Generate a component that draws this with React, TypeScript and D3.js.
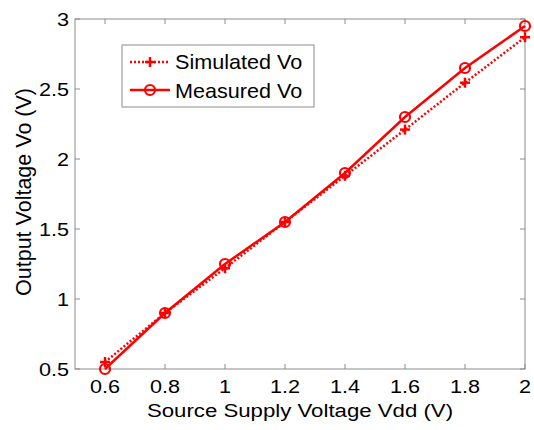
import React from "react";
import * as d3 from "d3";

// Supply voltage sweep and output voltages
const vdd = [0.6, 0.8, 1.0, 1.2, 1.4, 1.6, 1.8, 2.0];
const simulatedVo = [0.55, 0.9, 1.22, 1.55, 1.88, 2.21, 2.545, 2.87];
const measuredVo = [0.5, 0.9, 1.25, 1.55, 1.9, 2.3, 2.65, 2.95];
const xTicks = [0.6, 0.8, 1.0, 1.2, 1.4, 1.6, 1.8, 2.0];
const yTicks = [0.5, 1, 1.5, 2, 2.5, 3];
const seriesNames = ["Simulated Vo", "Measured Vo"];

const W = 534;
const H = 430;
const plot = { left: 75, right: 525, top: 19, bottom: 369 };
const RED = "#ff0000";
const AXIS = "#8c8c8c";
const FONT = "Liberation Sans, Arial, sans-serif";
const FS = 18.5;
const SX = 1.17; // horizontal widening of the label glyphs

// Text drawn with slightly widened glyphs
function WideText(props: {
  x: number;
  y: number;
  anchor?: "start" | "middle" | "end";
  size?: number;
  sx?: number;
  children: React.ReactNode;
}) {
  const { x, y, anchor = "start", size = FS, sx = SX, children } = props;
  return (
    <text
      transform={`translate(${x},${y}) scale(${sx},1)`}
      fontSize={size}
      textAnchor={anchor}
      fill="#000"
    >
      {children}
    </text>
  );
}

export default function App() {
  const x = d3.scaleLinear().domain([0.5, 2]).range([plot.left, plot.right]);
  const y = d3.scaleLinear().domain([0.5, 3]).range([plot.bottom, plot.top]);
  const line = d3
    .line<[number, number]>()
    .x((d) => x(d[0]))
    .y((d) => y(d[1]));
  const simPts = vdd.map((v, i) => [v, simulatedVo[i]] as [number, number]);
  const measPts = vdd.map((v, i) => [v, measuredVo[i]] as [number, number]);
  const tickLen = 5;
  const fmt = d3.format("~g");

  const cross = (cx: number, cy: number, k: string) => (
    <g key={k} stroke={RED} strokeWidth={2.5}>
      <line x1={cx - 5} x2={cx + 5} y1={cy} y2={cy} />
      <line x1={cx} x2={cx} y1={cy - 5} y2={cy + 5} />
    </g>
  );
  const circ = (cx: number, cy: number, k: string) => (
    <circle key={k} cx={cx} cy={cy} r={5} fill="none" stroke={RED} strokeWidth={2.2} />
  );

  const legend = { x: 122, y: 45, w: 192, h: 62 };

  return (
    <svg
      width={W}
      height={H}
      style={{ position: "absolute", left: 0, top: 0, background: "#fff" }}
      fontFamily={FONT}
    >
      <rect x={0} y={0} width={W} height={H} fill="#fff" />
      {/* ticks on all four sides, pointing inward */}
      <g stroke={AXIS} strokeWidth={1}>
        {xTicks.map((t) => (
          <g key={"xt" + t}>
            <line x1={x(t)} x2={x(t)} y1={plot.bottom} y2={plot.bottom - tickLen} />
            <line x1={x(t)} x2={x(t)} y1={plot.top} y2={plot.top + tickLen} />
          </g>
        ))}
        {yTicks.map((t) => (
          <g key={"yt" + t}>
            <line x1={plot.left} x2={plot.left + tickLen} y1={y(t)} y2={y(t)} />
            <line x1={plot.right} x2={plot.right - tickLen} y1={y(t)} y2={y(t)} />
          </g>
        ))}
        <rect
          x={plot.left}
          y={plot.top}
          width={plot.right - plot.left}
          height={plot.bottom - plot.top}
          fill="none"
        />
      </g>

      {/* tick labels */}
      {xTicks.map((t) => (
        <WideText key={"xl" + t} x={x(t)} y={plot.bottom + 24} anchor="middle">
          {fmt(t)}
        </WideText>
      ))}
      {yTicks.map((t) => (
        <WideText key={"yl" + t} x={plot.left - 6} y={y(t) + 7} anchor="end">
          {fmt(t)}
        </WideText>
      ))}

      {/* axis titles */}
      <WideText x={300} y={417} anchor="middle" size={19}>
        Source Supply Voltage Vdd (V)
      </WideText>
      <text
        transform={`translate(31, ${(plot.top + plot.bottom) / 2 - 2}) rotate(-90)`}
        fontSize={21.5}
        textAnchor="middle"
        fill="#000"
      >
        Output Voltage Vo (V)
      </text>

      {/* series */}
      <path d={line(simPts) ?? ""} fill="none" stroke={RED} strokeWidth={2.5} strokeDasharray="2,2" />
      <path d={line(measPts) ?? ""} fill="none" stroke={RED} strokeWidth={2.5} />
      {simPts.map((p, i) => cross(x(p[0]), y(p[1]), "s" + i))}
      {measPts.map((p, i) => circ(x(p[0]), y(p[1]), "m" + i))}

      {/* legend */}
      <rect
        x={legend.x}
        y={legend.y}
        width={legend.w}
        height={legend.h}
        fill="#fff"
        stroke={AXIS}
        strokeWidth={1}
      />
      <g>
        <line x1={130} x2={170} y1={62} y2={62} stroke={RED} strokeWidth={2.5} strokeDasharray="2,2" />
        {cross(150, 62, "lc")}
        <WideText x={175} y={69} size={20} sx={1.08}>
          {seriesNames[0]}
        </WideText>
        <line x1={130} x2={170} y1={90} y2={90} stroke={RED} strokeWidth={2.5} />
        {circ(150, 90, "lm")}
        <WideText x={175} y={98} size={20} sx={1.08}>
          {seriesNames[1]}
        </WideText>
      </g>
    </svg>
  );
}
